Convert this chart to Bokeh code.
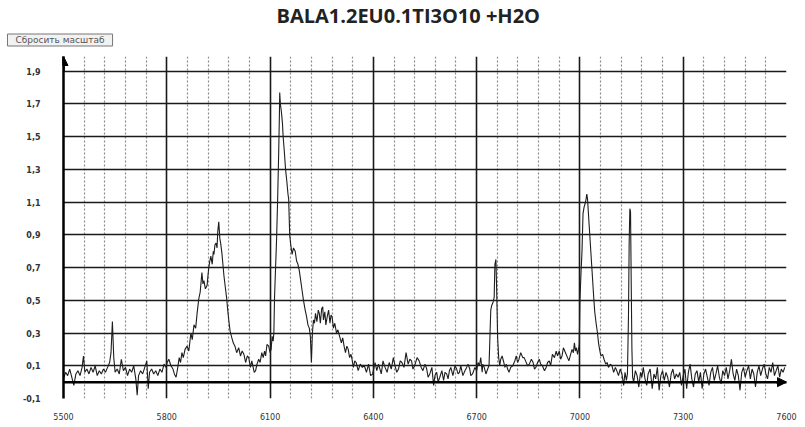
from bokeh.plotting import figure
from bokeh.models import (Range1d, FixedTicker, CustomJSTickFormatter, Span, Arrow,
                          NormalHead, Title)
from bokeh.embed import file_html
from bokeh.resources import INLINE

# ---------------- data ----------------
wavenumber = [
    5500, 5506, 5512, 5518, 5524, 5530, 5536, 5542, 5548, 5554, 5558, 5562, 5568, 5574, 5580,
    5586, 5592, 5598, 5604, 5610, 5616, 5622, 5628, 5634, 5638, 5642, 5646, 5650, 5656, 5662,
    5668, 5674, 5680, 5686, 5692, 5698, 5704, 5710, 5714, 5718, 5724, 5730, 5736, 5742, 5746,
    5750, 5756, 5762, 5768, 5774, 5780, 5786, 5792, 5798,
    5801, 5806, 5812, 5818, 5822, 5827, 5832, 5836, 5840, 5844, 5848, 5853, 5859, 5864, 5870,
    5874, 5879, 5884, 5888, 5893, 5897, 5902, 5905, 5908, 5912, 5917, 5920, 5922, 5925, 5928,
    5932, 5935, 5937, 5940, 5943, 5946, 5948, 5951, 5954, 5957, 5960, 5963, 5966, 5970, 5974,
    5977, 5980, 5984, 5989, 5993, 5998, 6003, 6009, 6014, 6019, 6024, 6029, 6034, 6038, 6043,
    6047, 6050, 6054, 6058, 6062, 6067, 6071, 6076, 6080, 6084, 6087, 6091, 6096, 6100, 6103,
    6106, 6109, 6111, 6113, 6116, 6119, 6122, 6125, 6127, 6128, 6130, 6133, 6136, 6138, 6141,
    6145, 6149, 6152, 6154, 6157, 6160, 6164, 6168, 6173, 6177, 6181, 6185, 6189, 6193, 6197,
    6202, 6206, 6210, 6214, 6217, 6220, 6223, 6226, 6229, 6232, 6236, 6240, 6243, 6246, 6250,
    6253, 6255, 6259, 6262, 6266, 6270, 6274, 6277, 6280, 6284, 6288, 6293, 6297, 6302, 6307,
    6311, 6315, 6319, 6323, 6327, 6331, 6335, 6338, 6342, 6346, 6350, 6356, 6362, 6368, 6374,
    6380, 6386, 6392, 6398, 6405, 6410, 6415, 6423, 6428, 6434, 6440, 6446, 6452, 6458, 6463,
    6468, 6473, 6478, 6483, 6489, 6495, 6501, 6506, 6511, 6515, 6520, 6527, 6533, 6539, 6544,
    6550, 6555, 6559, 6564, 6570, 6575, 6579, 6584, 6588, 6593, 6599, 6604, 6608, 6613, 6617,
    6621, 6625, 6631, 6637, 6642, 6646, 6650, 6654, 6660, 6666, 6671, 6675, 6680, 6683, 6688,
    6695, 6700, 6704, 6708, 6712, 6716, 6718, 6722, 6727, 6732, 6736,
    6741, 6744, 6748, 6751, 6753, 6756, 6758, 6761, 6764, 6767, 6770, 6774, 6779, 6782, 6786,
    6790, 6794, 6799, 6805, 6811, 6815, 6819, 6823, 6828, 6834, 6838, 6842, 6848, 6853, 6859,
    6864, 6868, 6872, 6877, 6882, 6886, 6891, 6897, 6902, 6906, 6911, 6915, 6920, 6926, 6931,
    6935, 6940, 6944, 6948, 6952, 6958, 6964, 6968, 6973, 6977, 6981, 6984, 6987, 6990, 6993,
    6996, 6998,
    7000, 7003, 7006, 7009, 7012, 7015, 7018, 7020, 7022, 7025, 7028, 7031, 7034, 7037, 7040,
    7043, 7047, 7051, 7054, 7057, 7061, 7066, 7070, 7075, 7079, 7083, 7088, 7093, 7098, 7103,
    7107, 7112, 7117, 7122, 7127, 7131, 7135, 7138, 7141, 7143, 7145, 7147, 7149, 7151, 7153,
    7156, 7161, 7166, 7171, 7176, 7180, 7184, 7189, 7194, 7198, 7204,
    7210, 7215, 7220, 7225, 7230, 7235, 7240, 7245, 7250, 7255, 7260, 7265, 7270, 7275, 7280,
    7285, 7290, 7295, 7300, 7305, 7310, 7315, 7320, 7325, 7330, 7335, 7340, 7345, 7350, 7355,
    7360, 7365, 7370, 7375, 7380, 7385, 7390, 7395, 7400, 7405, 7410, 7415, 7420, 7425, 7430,
    7435, 7440, 7445, 7450, 7455, 7460, 7465, 7470, 7475, 7480, 7485, 7490, 7495, 7500, 7505,
    7510, 7515, 7520, 7525, 7530, 7535, 7540, 7545, 7550, 7555, 7560, 7565, 7570, 7575, 7580,
    7585, 7590, 7595, 7600,
]

intensity = [
    0.02, 0.06, 0.04, 0.08, 0.03, -0.02, 0.05, 0.07, 0.04, 0.09, 0.16, 0.06, 0.08, 0.05, 0.09,
    0.06, 0.10, 0.04, 0.07, 0.05, 0.08, 0.06, 0.09, 0.12, 0.18, 0.37, 0.15, 0.06, 0.08, 0.05,
    0.14, 0.07, 0.09, 0.04, 0.08, 0.06, 0.10, 0.02, -0.08, 0.04, 0.07, 0.05, 0.09, 0.13, -0.04,
    0.06, 0.08, 0.05, 0.07, 0.04, 0.08, 0.06, 0.11, 0.09,
    0.12, 0.14, 0.10, 0.08, 0.05, 0.03, 0.09, 0.15, 0.12, 0.18, 0.15, 0.20, 0.22, 0.19, 0.30,
    0.26, 0.35, 0.33, 0.42, 0.51, 0.55, 0.67, 0.60, 0.62, 0.57, 0.59, 0.66, 0.70, 0.74, 0.77,
    0.72, 0.80, 0.78, 0.84, 0.85, 0.82, 0.92, 0.98, 0.88, 0.84, 0.79, 0.72, 0.65, 0.58, 0.51,
    0.44, 0.38, 0.31, 0.27, 0.24, 0.22, 0.18, 0.21, 0.16, 0.19, 0.17, 0.12, 0.16, 0.15, 0.09,
    0.13, 0.10, 0.06, 0.07, 0.11, 0.14, 0.12, 0.18, 0.15, 0.19, 0.16, 0.23, 0.22, 0.18, 0.20,
    0.28, 0.25, 0.30, 0.52, 0.70, 0.88, 1.12, 1.40, 1.62, 1.77, 1.70, 1.65, 1.58, 1.50, 1.42,
    1.30, 1.22, 1.15, 1.12, 0.90, 0.84, 0.78, 0.82, 0.80, 0.74, 0.72, 0.68, 0.62, 0.56, 0.50,
    0.44, 0.40, 0.35, 0.33, 0.28, 0.12, 0.30, 0.38, 0.36, 0.42, 0.37, 0.44, 0.42, 0.36, 0.45,
    0.46, 0.38, 0.43, 0.35, 0.40, 0.44, 0.36, 0.41, 0.40, 0.33, 0.36, 0.30, 0.32, 0.28, 0.24,
    0.27, 0.22, 0.18, 0.22, 0.20, 0.15, 0.17, 0.14, 0.09, 0.13, 0.12, 0.07, 0.11, 0.09,
    0.10, 0.06, 0.11, 0.04, 0.05, 0.12, 0.07, 0.11, 0.05, 0.13, 0.09, 0.06, 0.12, 0.08, 0.15,
    0.10, 0.06, 0.08, 0.13, 0.12, 0.09, 0.18, 0.11, 0.14, 0.13, 0.08, 0.10, 0.15, 0.13, 0.09,
    0.07, 0.11, 0.08, 0.03, 0.05, 0.09, -0.02, 0.04, 0.06, 0.00, 0.03, 0.07, 0.01, 0.06, 0.05,
    0.02, 0.07, 0.09, 0.04, 0.10, 0.08, 0.05, 0.06, 0.10, 0.04, 0.07, 0.09, 0.11, 0.08, 0.04,
    0.05, 0.09, 0.07, 0.12, 0.10, 0.15, 0.06, 0.11, 0.09, 0.05, 0.08,
    0.10, 0.44, 0.47, 0.49, 0.52, 0.72, 0.75, 0.58, 0.27, 0.15, 0.10, 0.14, 0.16, 0.12, 0.09,
    0.11, 0.08, 0.06, 0.09, 0.10, 0.13, 0.16, 0.12, 0.14, 0.18, 0.15, 0.15, 0.13, 0.10, 0.11,
    0.14, 0.12, 0.08, 0.09, 0.12, 0.14, 0.11, 0.10, 0.07, 0.09, 0.12, 0.13, 0.10, 0.17, 0.15,
    0.19, 0.16, 0.19, 0.14, 0.16, 0.21, 0.18, 0.15, 0.13, 0.17, 0.20, 0.18, 0.24, 0.19, 0.21,
    0.17, 0.20,
    0.23, 0.50, 0.66, 0.80, 1.03, 1.07, 1.09, 1.12, 1.15, 1.12, 1.02, 0.92, 0.82, 0.72, 0.62,
    0.52, 0.43, 0.36, 0.30, 0.24, 0.20, 0.16, 0.17, 0.14, 0.11, 0.12, 0.09, 0.11, 0.10, 0.06,
    0.09, 0.07, 0.04, 0.08, 0.05, -0.02, 0.06, 0.01, 0.05, 0.40, 0.85, 1.06, 1.04, 0.60, 0.20,
    0.03, 0.00, 0.07, 0.04, -0.03, 0.06, 0.03, 0.09, 0.02, -0.02, 0.05,
    0.08, -0.04, 0.05, 0.02, 0.09, -0.05, 0.04, 0.07, 0.01, 0.06, 0.03, -0.03, 0.05, 0.08, 0.02,
    0.05, 0.03, 0.06, -0.02, 0.04, 0.08, -0.04, 0.06, 0.11, 0.02, -0.03, 0.05, 0.07, 0.00, 0.06,
    -0.04, 0.05, 0.08, 0.03, -0.02, 0.06, 0.09, 0.01, 0.05, 0.10, 0.03, -0.01, 0.07, 0.04, 0.09,
    0.02, 0.07, 0.14, 0.05, 0.01, 0.08, 0.04, -0.05, 0.06, 0.09, 0.03, 0.07, 0.10, 0.02, 0.08,
    0.05, -0.03, 0.06, 0.10, 0.04, 0.08, 0.11, 0.05, 0.02, 0.09, 0.06, 0.12, 0.04, 0.07, 0.10,
    0.03, 0.08, 0.06, 0.09,
]

x_major_ticks = [5500, 5800, 6100, 6400, 6700, 7000, 7300, 7600]
x_minor_step = 60
y_ticks = [-0.1, 0.1, 0.3, 0.5, 0.7, 0.9, 1.1, 1.3, 1.5, 1.7, 1.9]

title_text = "BALA1.2EU0.1TI3O10 +H2O"
reset_text = "Сбросить масштаб"

# ---------------- figure ----------------
x_min, x_max = 5500, 7600
y_min, y_max = -0.1, 1.99

p = figure(width=798, height=426, output_backend="svg", toolbar_location=None,
           x_range=Range1d(x_min, x_max), y_range=Range1d(y_min, y_max),
           min_border_left=63, min_border_right=12, min_border_bottom=28, min_border_top=56,
           background_fill_color="white", border_fill_color="white")
p.outline_line_color = None

# titles
p.title.text = title_text
p.title.align = "left"
p.title.offset = 213
p.title.text_font = "Open Sans"
p.title.text_font_style = "bold"
p.title.text_font_size = "20px"
p.title.text_color = "#222222"
p.title.standoff = -15

btn = Title(text=reset_text, align="left", offset=-56, text_font="DejaVu Sans",
            text_font_size="9px", text_font_style="normal", text_color="#555555",
            border_line_color="#777777", background_fill_color="#f2f2f2", standoff=21,
            padding=(8, 8, 1, 1))
p.add_layout(btn, "above")

# axes
minor = [v for v in range(x_min, x_max + 1, x_minor_step) if v not in x_major_ticks]
p.xaxis.ticker = FixedTicker(ticks=x_major_ticks, minor_ticks=minor)
p.xaxis.axis_line_color = None
p.xaxis.major_tick_line_color = None
p.xaxis.minor_tick_line_color = None
p.xaxis.major_label_text_font = "DejaVu Sans"
p.xaxis.major_label_text_font_size = "8px"
p.xaxis.major_label_text_color = "#333333"
p.xaxis.major_label_standoff = 8

p.yaxis.ticker = FixedTicker(ticks=y_ticks)
p.yaxis.formatter = CustomJSTickFormatter(code="return tick.toFixed(1).replace('.', ',');")
p.yaxis.axis_line_color = "black"
p.yaxis.axis_line_width = 2.5
p.yaxis.major_tick_line_color = None
p.yaxis.minor_tick_line_color = None
p.yaxis.major_label_text_font = "DejaVu Sans"
p.yaxis.major_label_text_font_size = "8px"
p.yaxis.major_label_text_font_style = "bold"
p.yaxis.major_label_text_color = "#333333"
p.yaxis.major_label_standoff = 17

# grids
p.xgrid.grid_line_color = "#1a1a1a"
p.xgrid.grid_line_width = 1.6
p.xgrid.minor_grid_line_color = "#8a8a8a"
p.xgrid.minor_grid_line_width = 1.2
p.xgrid.minor_grid_line_dash = "2 2"
p.ygrid.grid_line_color = "#1a1a1a"
p.ygrid.grid_line_width = 1.6

# zero line with arrow, y-axis arrow
p.add_layout(Span(location=0, dimension="width", line_color="black", line_width=2.5))
p.add_layout(Arrow(end=NormalHead(size=9, fill_color="black", line_color="black"),
                   x_start=x_max - 30, y_start=0, x_end=x_max, y_end=0,
                   line_color="black", line_width=2.5))
p.add_layout(Arrow(end=NormalHead(size=9, fill_color="black", line_color="black"),
                   x_start=x_min, y_start=1.9, x_end=x_min, y_end=y_max,
                   line_color="black", line_width=2.5))

# spectrum
p.line(wavenumber, intensity, line_color="#1e1e1e", line_width=1.1)

open("out.html", "w").write(file_html(p, INLINE))
